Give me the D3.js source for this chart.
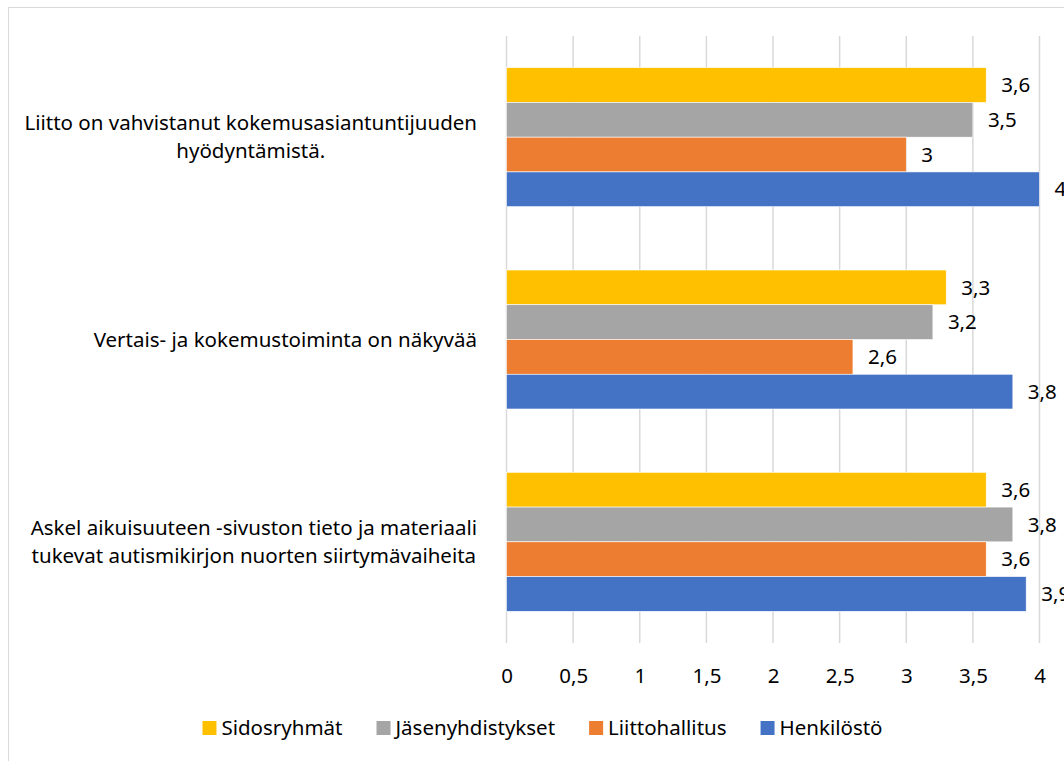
<!DOCTYPE html>
<html>
<head>
<meta charset="utf-8">
<script src="https://cdn.jsdelivr.net/npm/d3@7"></script>
<style>
  body { margin: 0; background: #fff; }
  svg text { font-family: "Noto Sans", Lato, sans-serif; fill: #000; }
</style>
</head>
<body>
<svg id="chart" width="1064" height="761"></svg>
<script>
// statements, top to bottom
var categories = [
  ["Liitto on vahvistanut kokemusasiantuntijuuden", "hyödyntämistä."],
  ["Vertais- ja kokemustoiminta on näkyvää"],
  ["Askel aikuisuuteen -sivuston tieto ja materiaali", "tukevat autismikirjon nuorten siirtymävaiheita"]
];
var seriesNames = ["Sidosryhmät", "Jäsenyhdistykset", "Liittohallitus", "Henkilöstö"];
var colors = ["#FFC000", "#A5A5A5", "#ED7D31", "#4472C4"];

// one array per series, same order as categories
var sidosryhmat = [3.6, 3.3, 3.6];
var jasenyhdistykset = [3.5, 3.2, 3.8];
var liittohallitus = [3.0, 2.6, 3.6];
var henkilosto = [4.0, 3.8, 3.9];
var seriesValues = [sidosryhmat, jasenyhdistykset, liittohallitus, henkilosto];

var xTicks = [0, 0.5, 1, 1.5, 2, 2.5, 3, 3.5, 4];

var fmt = function(v) { return String(v).replace(".", ","); };
var fontSize = 20.5;

var svg = d3.select("#chart");

// chart area border (runs off the right and bottom)
svg.append("rect")
    .attr("x", 8.5).attr("y", 7.5)
    .attr("width", 1100).attr("height", 800)
    .attr("fill", "none")
    .attr("stroke", "#d9d9d9")
    .attr("stroke-width", 1);

var x = d3.scaleLinear()
    .domain([0, 4])
    .range([506.5, 1039.5]);

var y = d3.scaleBand()
    .domain(d3.range(categories.length))
    .range([36, 643])
    .paddingInner(0.313)
    .paddingOuter(0.1565);

var y1 = d3.scaleBand()
    .domain(d3.range(seriesNames.length))
    .range([0, y.bandwidth()]);

// vertical gridlines
svg.append("g")
  .selectAll("line")
  .data(xTicks)
  .enter().append("line")
    .attr("x1", function(d) { return x(d); })
    .attr("x2", function(d) { return x(d); })
    .attr("y1", 36).attr("y2", 643)
    .attr("stroke", "#d9d9d9")
    .attr("stroke-width", 1.5);

// x tick labels
var xAxis = svg.append("g")
    .attr("transform", "translate(0,676)")
    .call(d3.axisBottom(x).tickValues(xTicks).tickFormat(fmt).tickSize(0).tickPadding(0));
xAxis.select(".domain").remove();
xAxis.selectAll("text")
    .attr("dy", "0.35em")
    .style("font-size", fontSize + "px")
    .style("font-family", "'Noto Sans', Lato, sans-serif");

// bars
var groups = svg.append("g")
  .selectAll("g")
  .data(categories)
  .enter().append("g")
    .attr("transform", function(d, i) { return "translate(0," + y(i) + ")"; });

groups.each(function(cat, ci) {
  var g = d3.select(this);
  var rows = seriesValues.map(function(vals, si) { return { s: si, v: vals[ci] }; });

  g.selectAll("rect")
    .data(rows)
    .enter().append("rect")
      .attr("x", x(0))
      .attr("y", function(d) { return y1(d.s); })
      .attr("width", function(d) { return x(d.v) - x(0); })
      .attr("height", y1.bandwidth())
      .attr("fill", function(d) { return colors[d.s]; })
      .attr("stroke", "#fff")
      .attr("stroke-width", 0.6);

  g.selectAll("text.val")
    .data(rows)
    .enter().append("text")
      .attr("class", "val")
      .attr("x", function(d) { return x(d.v) + 15; })
      .attr("y", function(d) { return y1(d.s) + y1.bandwidth() / 2; })
      .attr("dy", "0.35em")
      .style("font-size", fontSize + "px")
      .text(function(d) { return fmt(d.v); });
});

// category labels: block right aligned, lines centred inside the block
var labelRight = 477;
var lineH = 28;
categories.forEach(function(lines, ci) {
  var cy = y(ci) + y.bandwidth() / 2;
  var t = svg.append("text")
      .attr("text-anchor", "middle")
      .style("font-size", fontSize + "px");
  var spans = lines.map(function(l, li) {
    return t.append("tspan")
        .attr("y", cy + (li - (lines.length - 1) / 2) * lineH)
        .attr("dy", "0.35em")
        .text(l);
  });
  var maxW = d3.max(spans, function(s) { return s.node().getComputedTextLength(); });
  spans.forEach(function(s) { s.attr("x", labelRight - maxW / 2); });
});

// legend
var legend = svg.append("g");
var items = legend.selectAll("g")
  .data(seriesNames)
  .enter().append("g");
items.append("rect")
    .attr("width", 14).attr("height", 14)
    .attr("y", 721)
    .attr("fill", function(d, i) { return colors[i]; });
items.append("text")
    .attr("x", 19)
    .attr("y", 728)
    .attr("dy", "0.35em")
    .style("font-size", fontSize + "px")
    .text(function(d) { return d; });

var pos = 0, widths = [];
items.each(function() {
  var w = 19 + d3.select(this).select("text").node().getComputedTextLength();
  widths.push(w);
});
var total = d3.sum(widths) + 34 * (widths.length - 1);
pos = 542.5 - total / 2;
items.attr("transform", function(d, i) {
  var p = pos;
  pos += widths[i] + 34;
  return "translate(" + p + ",0)";
});
</script>
</body>
</html>
